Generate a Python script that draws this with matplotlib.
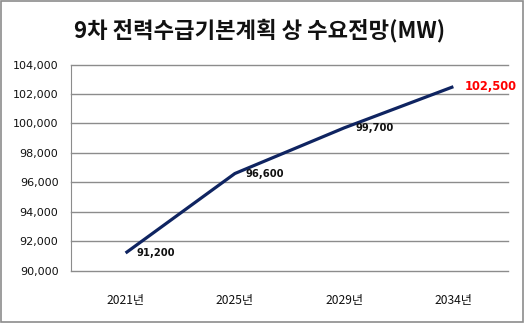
import matplotlib.pyplot as plt
from matplotlib.patches import Rectangle
from matplotlib.ticker import FuncFormatter

plt.rcParams['font.family'] = ['Noto Sans CJK KR', 'DejaVu Sans']

years = ['2021년', '2025년', '2029년', '2034년']
demand = [91200, 96600, 99700, 102500]
yticks = [90000, 92000, 94000, 96000, 98000, 100000, 102000, 104000]


def main():
    fig = plt.figure(figsize=(5.25, 3.23), dpi=100)
    fig.patches.append(Rectangle((0.002, 0.003), 0.995, 0.994, transform=fig.transFigure,
                                 fill=False, edgecolor='#8c8c8c', linewidth=1.2))
    ax = fig.add_axes([0.1352, 0.162, 0.8324, 0.638])

    x = list(range(len(years)))
    ax.plot(x, demand, color='#0f2461', linewidth=2.3, solid_capstyle='butt')

    for i, v in enumerate(demand):
        last = i == len(demand) - 1
        ax.annotate(f'{v:,}', (i, v), xytext=(8, 0), textcoords='offset points',
                    va='center', ha='left', fontweight='bold',
                    fontsize=8.3 if last else 7.2, color='red' if last else '#111111',
                    family=['DejaVu Sans'])

    ax.set_xlim(-0.5, 3.5)
    ax.set_ylim(90000, 104000)
    ax.set_yticks(yticks)
    ax.yaxis.set_major_formatter(FuncFormatter(lambda v, p: f'{int(v):,}'))
    ax.set_xticks(x)
    ax.set_xticklabels(years)
    ax.grid(axis='y', color='#8c8c8c', linewidth=1)
    for gl in ax.get_ygridlines():
        gl.set_clip_on(False)
    ax.set_axisbelow(True)
    for s in ['top', 'right', 'bottom']:
        ax.spines[s].set_visible(False)
    ax.spines['left'].set_color('#8c8c8c')
    ax.tick_params(axis='both', length=0, labelsize=8, colors='#111111')
    ax.tick_params(axis='x', pad=17, labelsize=8.7)
    ax.tick_params(axis='y', pad=9)
    for lab in ax.get_yticklabels():
        lab.set_family('DejaVu Sans')

    fig.text(0.495, 0.905, '9차 전력수급기본계획 상 수요전망(MW)', ha='center', va='center',
             fontsize=16, fontweight='bold', color='#111111')

    fig.savefig('out.png', dpi=100)


if __name__ == "__main__":
    main()
